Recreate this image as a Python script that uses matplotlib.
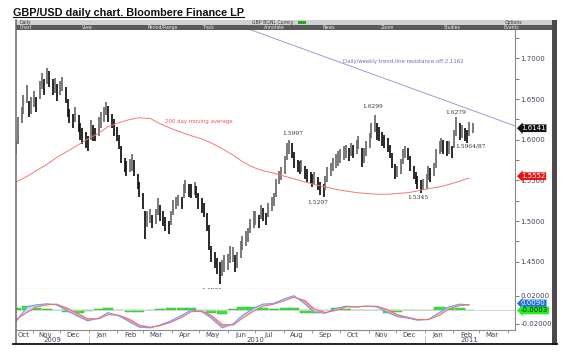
import matplotlib
matplotlib.use("Agg")
import matplotlib.pyplot as plt
import matplotlib.dates as mdates
import matplotlib.transforms as mtransforms
from matplotlib.lines import Line2D
from matplotlib.patches import Rectangle
import pandas as pd

# GBP/USD, one bar per two trading days
highs = [
    1.598, 1.628, 1.640, 1.655, 1.667, 1.648, 1.652, 1.660, 1.652, 1.672,
    1.682, 1.674, 1.688, 1.684, 1.675, 1.676, 1.668, 1.672, 1.677, 1.665,
    1.650, 1.638, 1.632, 1.640, 1.630, 1.620, 1.615, 1.610, 1.605, 1.624,
    1.618, 1.614, 1.628, 1.634, 1.640, 1.646, 1.642, 1.632, 1.625, 1.616,
    1.606, 1.592, 1.578, 1.574, 1.576, 1.582, 1.575, 1.558, 1.548, 1.535,
    1.512, 1.512, 1.515, 1.508, 1.515, 1.528, 1.520, 1.512, 1.505, 1.500,
    1.512, 1.526, 1.530, 1.532, 1.530, 1.546, 1.550, 1.546, 1.545, 1.548,
    1.543, 1.535, 1.528, 1.522, 1.510, 1.495, 1.470, 1.462, 1.455, 1.450,
    1.452, 1.458, 1.460, 1.470, 1.468, 1.458, 1.462, 1.475, 1.482, 1.488,
    1.492, 1.502, 1.512, 1.512, 1.508, 1.520, 1.516, 1.510, 1.522, 1.530,
    1.535, 1.552, 1.562, 1.566, 1.580, 1.596, 1.600, 1.596, 1.585, 1.575,
    1.574, 1.575, 1.568, 1.564, 1.560, 1.558, 1.560, 1.554, 1.548, 1.545,
    1.555, 1.566, 1.572, 1.578, 1.582, 1.586, 1.588, 1.592, 1.594, 1.590,
    1.596, 1.594, 1.600, 1.604, 1.590, 1.590, 1.598, 1.608, 1.620, 1.630,
    1.620, 1.616, 1.610, 1.606, 1.602, 1.594, 1.584, 1.570, 1.568, 1.576,
    1.588, 1.592, 1.590, 1.580, 1.568, 1.560, 1.555, 1.550, 1.552, 1.558,
    1.568, 1.565, 1.572, 1.588, 1.598, 1.602, 1.600, 1.598, 1.598, 1.592,
    1.612, 1.628, 1.620, 1.618, 1.614, 1.612, 1.622, 1.620,
]
lows = [
    1.583, 1.595, 1.620, 1.632, 1.645, 1.628, 1.632, 1.640, 1.634, 1.650,
    1.662, 1.655, 1.668, 1.665, 1.655, 1.658, 1.648, 1.655, 1.660, 1.645,
    1.628, 1.620, 1.615, 1.622, 1.610, 1.600, 1.595, 1.590, 1.586, 1.600,
    1.598, 1.598, 1.604, 1.615, 1.622, 1.630, 1.622, 1.615, 1.605, 1.598,
    1.588, 1.572, 1.560, 1.556, 1.560, 1.562, 1.555, 1.540, 1.530, 1.515,
    1.478, 1.493, 1.498, 1.492, 1.496, 1.508, 1.500, 1.494, 1.488, 1.484,
    1.495, 1.508, 1.515, 1.518, 1.515, 1.528, 1.535, 1.530, 1.528, 1.532,
    1.528, 1.515, 1.510, 1.505, 1.488, 1.465, 1.450, 1.442, 1.435, 1.423,
    1.432, 1.438, 1.440, 1.448, 1.450, 1.438, 1.442, 1.455, 1.465, 1.470,
    1.474, 1.485, 1.492, 1.495, 1.492, 1.502, 1.500, 1.495, 1.505, 1.512,
    1.518, 1.530, 1.545, 1.550, 1.558, 1.575, 1.582, 1.578, 1.565, 1.560,
    1.558, 1.560, 1.552, 1.548, 1.545, 1.542, 1.545, 1.538, 1.532, 1.530,
    1.538, 1.548, 1.555, 1.562, 1.565, 1.568, 1.572, 1.575, 1.578, 1.574,
    1.580, 1.578, 1.582, 1.588, 1.566, 1.572, 1.580, 1.590, 1.602, 1.610,
    1.600, 1.598, 1.592, 1.590, 1.585, 1.578, 1.565, 1.552, 1.554, 1.558,
    1.570, 1.578, 1.575, 1.562, 1.552, 1.545, 1.540, 1.535, 1.538, 1.540,
    1.550, 1.548, 1.556, 1.565, 1.582, 1.585, 1.582, 1.580, 1.582, 1.578,
    1.590, 1.605, 1.600, 1.602, 1.598, 1.596, 1.605, 1.608,
]
# 200 day moving average, every 4th bar
ma_values = [
    1.548, 1.555, 1.562, 1.570, 1.578, 1.586, 1.594, 1.601, 1.608, 1.616,
    1.621, 1.625, 1.627, 1.626, 1.620, 1.614, 1.609, 1.605, 1.601, 1.596,
    1.589, 1.581, 1.573, 1.566, 1.562, 1.559, 1.555, 1.552, 1.548, 1.545,
    1.542, 1.539, 1.537, 1.535, 1.534, 1.533, 1.533, 1.534, 1.535, 1.537,
    1.540, 1.542, 1.545, 1.549, 1.553,
]
# MACD panel, every 4th bar
macd_values = [
    -0.017, 0.004, 0.007, 0.0085, 0.007, -0.002, -0.010, -0.016, -0.012, -0.004,
    -0.009, -0.018, -0.025, -0.026, -0.022, -0.016, -0.008, -0.0005, -0.003, -0.012,
    -0.026, -0.020, -0.008, 0.002, 0.008, 0.009, 0.016, 0.020, 0.008, -0.004,
    -0.005, 0.002, 0.005, 0.004, 0.005, 0.004, -0.004, -0.010, -0.012, -0.015,
    -0.014, -0.004, 0.004, 0.008, 0.007,
]
signal_values = [
    -0.014, -0.004, 0.004, 0.007, 0.008, 0.002, -0.006, -0.013, -0.013, -0.007,
    -0.008, -0.014, -0.022, -0.025, -0.023, -0.018, -0.011, -0.003, -0.002, -0.008,
    -0.021, -0.022, -0.012, -0.002, 0.005, 0.008, 0.013, 0.018, 0.013, 0.001,
    -0.004, -0.001, 0.004, 0.004, 0.005, 0.005, 0.000, -0.007, -0.011, -0.014,
    -0.014, -0.008, 0.001, 0.006, 0.007,
]
hist_values = [
    0.002, 0.006, 0.002, 0.001, -0.001, -0.003, -0.004, -0.002, 0.001, 0.003,
    -0.001, -0.003, -0.003, -0.001, 0.001, 0.002, 0.003, 0.003, -0.001, -0.004,
    -0.006, 0.001, 0.004, 0.004, 0.003, 0.001, 0.002, 0.002, -0.005, -0.005,
    -0.001, 0.003, 0.001, 0.000, 0.000, -0.001, -0.004, -0.003, -0.001, -0.001,
    0.000, 0.004, 0.003, 0.002, 0.000,
]
price_ticks = [1.45, 1.50, 1.55, 1.60, 1.65, 1.70]
last_price = 1.6141
last_ma = 1.5552
last_macd = 0.0090
last_hist = -0.0003

bar_dates = pd.bdate_range("2009-10-14", periods=len(highs), freq="2B")
ma_dates = bar_dates[::4]
macd_dates = bar_dates[::4]

W, H = 569.0, 359.0


def px_box(x0, y0, x1, y1):
    return [x0 / W, 1 - y1 / H, (x1 - x0) / W, (y1 - y0) / H]


def dnum(s):
    return mdates.date2num(pd.Timestamp(s))


fig = plt.figure(figsize=(5.69, 3.59), dpi=100)
ax = fig.add_axes(px_box(16, 30, 515, 289))
ax2 = fig.add_axes(px_box(16, 289, 515, 330), sharex=ax)

# price bars: black when the bar moves down, grey when it moves up
mids = [(h + l) / 2 for h, l in zip(highs, lows)]
colors = ["#6a6a6a"] + ["#111111" if mids[i] < mids[i - 1] else "#6a6a6a" for i in range(1, len(mids))]
ax.vlines(bar_dates, lows, highs, colors=colors, linewidth=1.25)
ax.plot(ma_dates, ma_values, color="#f07a7a", lw=0.7)
ax.plot(pd.to_datetime(["2010-06-21", "2011-04-09"]), [1.737, 1.617], color="#9a9ae0", lw=0.7)

ax.set_xlim(pd.Timestamp("2009-10-14"), pd.Timestamp("2011-04-09"))
ax.set_ylim(1.4166, 1.7348)
ax.yaxis.tick_right()
ax.set_yticks(price_ticks)
ax.set_yticklabels([f"{v:.4f}" for v in price_ticks])
ax.set_yticks([v + 0.025 for v in price_ticks], minor=True)
ax.tick_params(axis="y", which="both", direction="out", length=3, width=0.6, color="#666666",
               labelsize=5, labelcolor="#44445a", pad=1)
ax.tick_params(axis="x", which="both", bottom=False, labelbottom=False)
for side in ["top", "left"]:
    ax.spines[side].set_visible(False)
ax.spines["right"].set_color("#8a8a8a")
ax.spines["right"].set_linewidth(0.8)
ax.spines["bottom"].set_color("#9a9a9a")
ax.spines["bottom"].set_linewidth(0.8)

note = dict(fontsize=4.3, color="#333333", family="DejaVu Serif", ha="center", va="center")
ax.text(dnum("2010-11-05"), 1.6402, "1.6299", **note)
ax.text(dnum("2010-08-11"), 1.6082, "1.5997", **note)
ax.text(dnum("2010-09-07"), 1.5225, "1.5297", **note)
ax.text(dnum("2010-12-25"), 1.5286, "1.5345", **note)
ax.text(dnum("2011-02-04"), 1.6340, "1.6279", **note)
ax.text(dnum("2011-02-20"), 1.5923, "1.5964/87", **note)
ax.text(dnum("2010-05-15"), 1.4150, "1.4231", clip_on=True, **note)
ax.text(dnum("2010-05-01"), 1.6230, "200 day moving average", fontsize=3.9,
        color="#ee5555", ha="center", va="center")
ax.text(dnum("2010-12-09"), 1.6967, "Daily/weekly trend-line resistance off 2.1162",
        fontsize=3.9, color="#6f6fc0", ha="center", va="center")

tag = dict(fontsize=5, ha="left", va="center", family="DejaVu Sans")
ytr = mtransforms.blended_transform_factory(ax.transAxes, ax.transData)
ax.text(1.012, last_price, f"{last_price:.4f}", transform=ytr, color="white",
        bbox=dict(boxstyle="larrow,pad=0.12", fc="#111111", ec="none"), **tag)
ax.text(1.012, last_ma, f"{last_ma:.4f}", transform=ytr, color="white",
        bbox=dict(boxstyle="larrow,pad=0.12", fc="#ee1111", ec="none"), **tag)

# MACD panel
ax2.axhline(0, color="#d0d0d0", lw=0.6)
ax2.bar(macd_dates, hist_values, width=11, color="#44dd44", edgecolor="#22bb22", linewidth=0.3)
ax2.fill_between(macd_dates, macd_values, signal_values,
                 where=[s > m for s, m in zip(signal_values, macd_values)],
                 interpolate=True, color="#f4a0a0", lw=0)
ax2.fill_between(macd_dates, macd_values, signal_values,
                 where=[s <= m for s, m in zip(signal_values, macd_values)],
                 interpolate=True, color="#c8dcf6", lw=0)
ax2.plot(macd_dates, macd_values, color="#6f9ff0", lw=0.8)
ax2.plot(macd_dates, signal_values, color="#f07070", lw=0.8)
ax2.set_ylim(-0.029, 0.0296)
ax2.yaxis.tick_right()
ax2.set_yticks([-0.02, 0.02])
ax2.set_yticklabels(["-0.02000", "0.02000"])
ax2.tick_params(axis="y", direction="out", length=3, width=0.6, color="#666666",
                labelsize=5, labelcolor="#44445a", pad=1)
ytr2 = mtransforms.blended_transform_factory(ax2.transAxes, ax2.transData)
ax2.text(1.012, last_macd, f"{last_macd:.4f}", transform=ytr2, color="white",
         bbox=dict(boxstyle="larrow,pad=0.12", fc="#1f6fe0", ec="none"), **tag)
ax2.text(1.012, last_hist - 0.0008, f"{last_hist:.4f}", transform=ytr2, color="#111111",
         bbox=dict(boxstyle="larrow,pad=0.12", fc="#22ee22", ec="none"), **tag)

label_dates = [pd.Timestamp("2009-10-22")] + list(pd.date_range("2009-11-01", "2011-03-01", freq="MS") + pd.Timedelta(days=14))
ax2.set_xticks(label_dates)
ax2.xaxis.set_major_formatter(mdates.DateFormatter("%b"))
ax2.xaxis.set_minor_locator(mdates.MonthLocator())
ax2.tick_params(axis="x", which="major", length=0, labelsize=5, labelcolor="#44445a", pad=1.5)
ax2.tick_params(axis="x", which="minor", length=2.5, width=0.6, color="#888888", direction="out")
ax2.spines["top"].set_visible(False)
ax2.spines["left"].set_visible(False)
for side in ["right", "bottom"]:
    ax2.spines[side].set_color("#8a8a8a")
    ax2.spines[side].set_linewidth(0.8)

ftr = mtransforms.blended_transform_factory(ax2.transData, fig.transFigure)
for yr_date, yr in [("2009-11-23", "2009"), ("2010-07-01", "2010"), ("2011-02-19", "2011")]:
    fig.text(dnum(yr_date), 1 - 340.5 / H, yr, transform=ftr, fontsize=5,
             color="#44445a", ha="center", va="center")
for sep in ["2010-01-01", "2011-01-01"]:
    fig.add_artist(Line2D([dnum(sep)] * 2, [1 - 336 / H, 1 - 344 / H], transform=ftr,
                          color="#aaaaaa", lw=0.5))

# frame, toolbar and title, in figure pixels
pix = mtransforms.Affine2D().scale(1 / W, -1 / H).translate(0, 1) + fig.transFigure
fig.add_artist(Rectangle((16, 20), 537, 4.5, transform=pix, color="#d2d2d2", lw=0))
fig.add_artist(Rectangle((16, 24.5), 537, 5.5, transform=pix, color="#5a5a5a", lw=0))
fig.add_artist(Rectangle((552, 20), 5, 325, transform=pix, color="#4a4a4a", lw=0))
fig.add_artist(Line2D([16, 16], [20, 344], transform=pix, color="#6a6a6a", lw=1.1))
fig.add_artist(Line2D([13, 557], [344, 344], transform=pix, color="#111111", lw=1.3))
fig.add_artist(Rectangle((298, 20.5), 8, 3.5, transform=pix, color="#22aa22", lw=0))

tb = dict(transform=pix, fontsize=3.3, va="center", ha="left")
fig.text(20, 22.3, "Daily", color="#333333", **tb)
fig.text(252, 22.3, "GBP BGNL Curncy", color="#333333", **tb)
fig.text(505, 22.3, "Options", color="#333333", **tb)
for x, label in [(20, "Chart"), (82, "View"), (148, "Period/Range"), (202, "Track"),
                 (264, "Annotate"), (323, "News"), (381, "Zoom"), (444, "Studies"), (504, "Events")]:
    fig.text(x, 27.3, label, color="#eeeeee", **tb)

title = fig.text(13, 15.5, "GBP/USD daily chart. Bloombere Finance LP", transform=pix,
                 fontsize=8, fontweight="bold", family="Liberation Sans", color="#111111",
                 ha="left", va="baseline")
fig.canvas.draw()
bb = title.get_window_extent()
title.set_fontsize(8 * 231 / bb.width)
fig.canvas.draw()
bb = title.get_window_extent()
fig.add_artist(Line2D([bb.x0 / W, bb.x1 / W], [1 - 17.2 / H] * 2, transform=fig.transFigure,
                      color="#111111", lw=0.8))

fig.savefig("out.png", dpi=100)
plt.close(fig)
